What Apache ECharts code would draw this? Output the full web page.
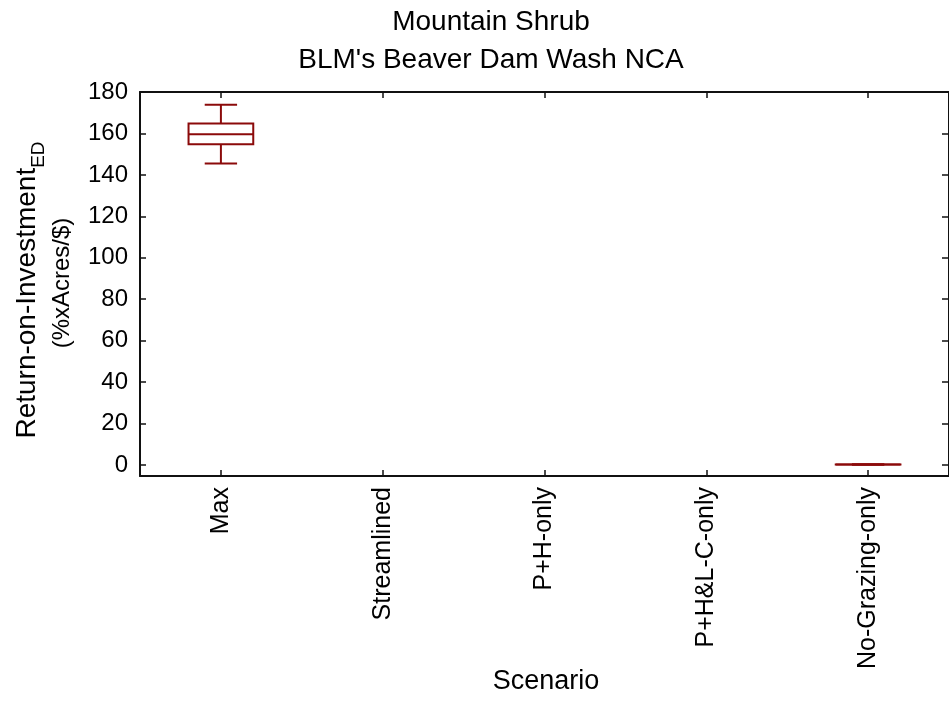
<!DOCTYPE html>
<html>
<head>
<meta charset="utf-8">
<script src="https://cdn.jsdelivr.net/npm/echarts@6/dist/echarts.min.js"></script>
<style>
  html, body { margin: 0; padding: 0; background: #fff; }
  #chart { width: 949px; height: 712px; }
</style>
</head>
<body>
<div id="chart"></div>
<script>
// Scenarios on the horizontal axis
const scenarios = ['Max', 'Streamlined', 'P+H-only', 'P+H&L-C-only', 'No-Grazing-only'];

// Box statistics per scenario: [low whisker, Q1, median, Q3, high whisker]; null = no data
const lowWhisker = [145.5, null, null, null, 0.1];
const quartile1  = [154.8, null, null, null, 0.2];
const medians    = [159.6, null, null, null, 0.25];
const quartile3  = [164.8, null, null, null, 0.3];
const highWhisker = [173.8, null, null, null, 0.4];

// Y-axis tick labels
const yTicks = [0, 20, 40, 60, 80, 100, 120, 140, 160, 180];

const boxData = [];
scenarios.forEach(function (name, i) {
  if (medians[i] === null) return;
  boxData.push([i, lowWhisker[i], quartile1[i], medians[i], quartile3[i], highWhisker[i]]);
});

const boxColor = '#8b0a0a';
const axisColor = '#111';
const fontFamily = '"Liberation Sans", Arial, Helvetica, sans-serif';

// Box with half-width whisker caps, positioned through the axis scales
function renderBox(params, api) {
  const idx = api.value(0);
  const band = api.size([1, 0])[0];
  const halfBox = band * 0.2;
  const halfCap = band * 0.1;
  const pLow = api.coord([idx, api.value(1)]);
  const pQ1 = api.coord([idx, api.value(2)]);
  const pMed = api.coord([idx, api.value(3)]);
  const pQ3 = api.coord([idx, api.value(4)]);
  const pHigh = api.coord([idx, api.value(5)]);
  const x = pMed[0];
  const style = { stroke: boxColor, lineWidth: 2, fill: null };
  return {
    type: 'group',
    children: [
      { type: 'line', shape: { x1: x, y1: pHigh[1], x2: x, y2: pQ3[1] }, style: style },
      { type: 'line', shape: { x1: x - halfCap, y1: pHigh[1], x2: x + halfCap, y2: pHigh[1] }, style: style },
      { type: 'line', shape: { x1: x, y1: pLow[1], x2: x, y2: pQ1[1] }, style: style },
      { type: 'line', shape: { x1: x - halfCap, y1: pLow[1], x2: x + halfCap, y2: pLow[1] }, style: style },
      { type: 'rect', shape: { x: x - halfBox, y: pQ3[1], width: halfBox * 2, height: pQ1[1] - pQ3[1] }, style: style },
      { type: 'line', shape: { x1: x - halfBox, y1: pMed[1], x2: x + halfBox, y2: pMed[1] }, style: style }
    ]
  };
}

const chart = echarts.init(document.getElementById('chart'), null, { renderer: 'canvas' });

const axisLineStyle = { show: true, onZero: false, lineStyle: { color: axisColor, width: 2 } };
const tickStyle = { show: true, inside: true, length: 6, lineStyle: { color: axisColor, width: 1.5 } };

chart.setOption({
  animation: false,
  backgroundColor: '#fff',
  grid: { left: 140, top: 92, right: -3, bottom: 236, containLabel: false },
  xAxis: [
    {
      type: 'category',
      data: scenarios,
      position: 'bottom',
      boundaryGap: true,
      axisLine: axisLineStyle,
      axisTick: Object.assign({ alignWithLabel: true }, tickStyle),
      axisLabel: {
        rotate: 90, margin: 11, color: '#000', fontSize: 25, fontFamily: fontFamily, interval: 0
      },
      splitLine: { show: false }
    },
    {
      type: 'category',
      data: scenarios,
      position: 'top',
      boundaryGap: true,
      axisLine: axisLineStyle,
      axisTick: Object.assign({ alignWithLabel: true }, tickStyle),
      axisLabel: { show: false },
      splitLine: { show: false }
    }
  ],
  yAxis: [
    {
      type: 'value',
      position: 'left',
      min: -5.3,
      max: 180,
      axisLine: axisLineStyle,
      axisTick: Object.assign({ customValues: yTicks }, tickStyle),
      axisLabel: {
        customValues: yTicks, margin: 12, color: '#000', fontSize: 24, fontFamily: fontFamily
      },
      splitLine: { show: false }
    },
    {
      type: 'value',
      position: 'right',
      min: -5.3,
      max: 180,
      axisLine: axisLineStyle,
      axisTick: Object.assign({ customValues: yTicks }, tickStyle, { length: 7 }),
      axisLabel: { show: false },
      splitLine: { show: false }
    }
  ],
  series: [
    {
      type: 'custom',
      name: 'ROI',
      xAxisIndex: 0,
      yAxisIndex: 0,
      renderItem: renderBox,
      encode: { x: 0, y: [1, 2, 3, 4, 5] },
      data: boxData,
      clip: false
    }
  ],
  graphic: [
    {
      type: 'text', x: 491, y: 22,
      style: { text: 'Mountain Shrub', font: '28px ' + fontFamily, fill: '#000', align: 'center', verticalAlign: 'middle' }
    },
    {
      type: 'text', x: 491, y: 60,
      style: { text: "BLM's Beaver Dam Wash NCA", font: '28px ' + fontFamily, fill: '#000', align: 'center', verticalAlign: 'middle' }
    },
    {
      type: 'text', x: 546, y: 682,
      style: { text: 'Scenario', font: '27px ' + fontFamily, fill: '#000', align: 'center', verticalAlign: 'middle' }
    },
    {
      type: 'text', x: 27, y: 290, rotation: Math.PI / 2,
      style: {
        text: 'Return-on-Investment{sub|ED}',
        fontFamily: fontFamily, fontSize: 28, fill: '#000',
        align: 'center', verticalAlign: 'middle',
        rich: {
          sub: { fontSize: 19, fontFamily: fontFamily, fill: '#000', verticalAlign: 'bottom', lineHeight: 42 }
        }
      }
    },
    {
      type: 'text', x: 62, y: 283, rotation: Math.PI / 2,
      style: { text: '(%xAcres/$)', font: '24px ' + fontFamily, fill: '#000', align: 'center', verticalAlign: 'middle' }
    }
  ]
});
</script>
</body>
</html>
